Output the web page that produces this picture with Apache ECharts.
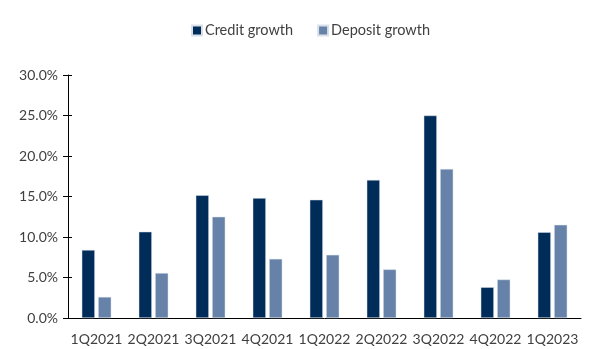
<!DOCTYPE html>
<html><head><meta charset="utf-8">
<script src="https://cdn.jsdelivr.net/npm/echarts@6/dist/echarts.min.js"></script>
<style>html,body{margin:0;padding:0;background:#fff}#c{width:593px;height:349px}</style>
</head><body><div id="c"></div>
<script>
const categories = ['1Q2021','2Q2021','3Q2021','4Q2021','1Q2022','2Q2022','3Q2022','4Q2022','1Q2023'];
const creditGrowth = [8.4, 10.65, 15.15, 14.8, 14.6, 17.05, 25.0, 3.8, 10.6];
const depositGrowth = [2.6, 5.55, 12.5, 7.3, 7.8, 6.0, 18.4, 4.75, 11.5];
const yTicks = [0, 5, 10, 15, 20, 25, 30];

const font = 'Lato, "Noto Sans", sans-serif';
const chart = echarts.init(document.getElementById('c'));
chart.setOption({
  animation: false,
  textStyle: {fontFamily: font},
  legend: {
    top: 18, left: 186, itemWidth: 10, itemHeight: 10, itemGap: 24,
    icon: 'rect',
    textStyle: {fontFamily: font, fontSize: 14.5, color: '#404040', padding: [0, 0, 0, -2]},
    data: ['Credit growth', 'Deposit growth']
  },
  grid: {left: 68, right: 12, top: 75, bottom: 31},
  xAxis: {
    type: 'category', data: categories,
    axisLine: {lineStyle: {color: '#000', width: 1}},
    axisTick: {inside: true, length: 5, lineStyle: {color: '#000'}},
    axisLabel: {color: '#404040', fontSize: 14, margin: 14, fontFamily: font, interval: 0}
  },
  yAxis: [{
    type: 'value', min: yTicks[0], max: yTicks[yTicks.length - 1], interval: 5,
    axisLine: {show: true, lineStyle: {color: '#000'}},
    axisTick: {show: true, length: 5, lineStyle: {color: '#000'}},
    splitLine: {show: false},
    axisLabel: {color: '#404040', fontSize: 14, margin: 10, fontFamily: font,
      formatter: v => v.toFixed(1) + '%'}
  }, {
    type: 'value', position: 'left', min: yTicks[0], max: yTicks[yTicks.length - 1], interval: 5,
    axisLine: {show: false}, axisLabel: {show: false}, splitLine: {show: false},
    axisTick: {show: true, inside: true, length: 4, lineStyle: {color: '#000'}}
  }],
  series: [{
    name: 'Credit growth', type: 'bar', data: creditGrowth,
    barWidth: '23%', barGap: '25%',
    itemStyle: {color: '#002C5A', borderColor: '#d9e0ea', borderWidth: 0.5}
  }, {
    name: 'Deposit growth', type: 'bar', data: depositGrowth,
    barWidth: '23%',
    itemStyle: {color: '#6682A8', borderColor: '#d9e0ea', borderWidth: 0.5}
  }]
});
</script></body></html>
